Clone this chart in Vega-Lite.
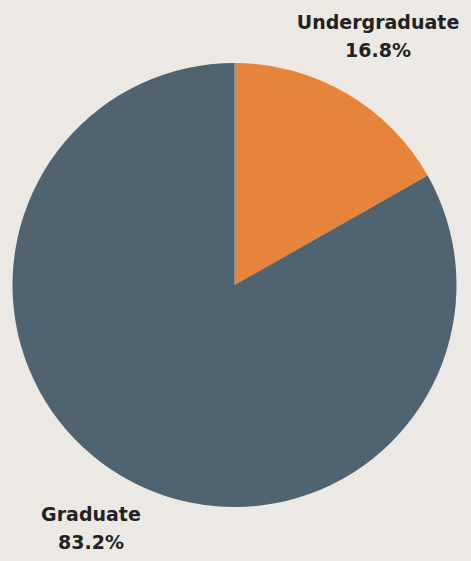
{
  "$schema": "https://vega.github.io/schema/vega-lite/v6.json",
  "autosize": {"type": "none"},
  "width": 469,
  "height": 552,
  "padding": {"top": 9, "left": 0, "right": 2, "bottom": 0},
  "background": "#ECE9E4",
  "config": {"view": {"stroke": null}},
  "data": {
    "values": [
      {"level": "Undergraduate", "share": 16.8, "pct": "16.8%", "ord": 1},
      {"level": "Graduate", "share": 83.2, "pct": "83.2%", "ord": 2}
    ]
  },
  "encoding": {
    "theta": {"field": "share", "type": "quantitative", "stack": true},
    "order": {"field": "ord", "type": "quantitative"}
  },
  "layer": [
    {
      "mark": {"type": "arc", "outerRadius": 222},
      "encoding": {
        "color": {
          "field": "level",
          "type": "nominal",
          "scale": {"domain": ["Undergraduate", "Graduate"], "range": ["#E5843A", "#506370"]},
          "legend": null
        }
      }
    },
    {
      "mark": {"type": "text", "radius": 285, "dy": -16, "font": "DejaVu Sans", "fontWeight": "bold", "fontSize": 19, "color": "#222222"},
      "encoding": {"text": {"field": "level", "type": "nominal"}}
    },
    {
      "mark": {"type": "text", "radius": 285, "dy": 12, "font": "DejaVu Sans", "fontWeight": "bold", "fontSize": 19, "color": "#222222"},
      "encoding": {"text": {"field": "pct", "type": "nominal"}}
    }
  ]
}
